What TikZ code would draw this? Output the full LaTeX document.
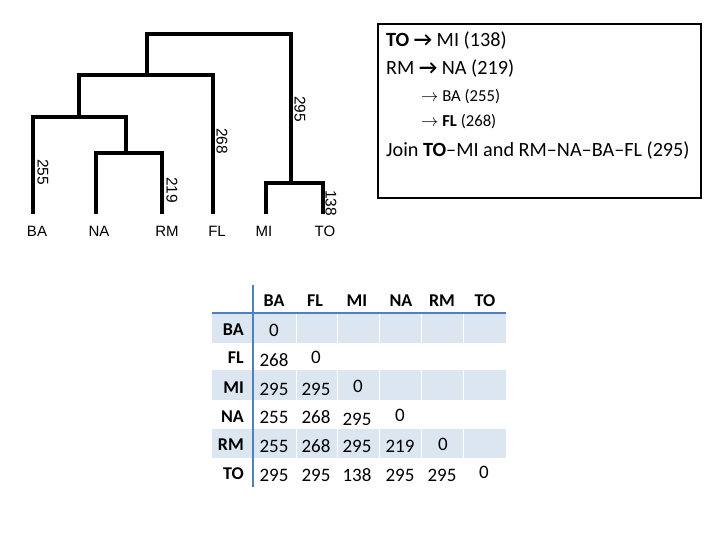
\documentclass[tikz,border=0pt]{standalone}
\usepackage{fontspec}
\setmainfont{Carlito}
\newfontfamily\dendfont{Liberation Sans}
\definecolor{cellshade}{RGB}{220,230,241}
\definecolor{tablerule}{RGB}{79,129,189}
\begin{document}
\begin{tikzpicture}[x=1pt,y=-1pt,
  dend/.style={line width=3.2pt,line join=miter,black},
  leaf/.style={font=\dendfont\fontsize{15}{15}\selectfont,inner sep=0pt},
  hgt/.style={font=\dendfont\fontsize{15.5}{15.5}\selectfont,inner sep=0pt,rotate=-90},
  boxline/.style={anchor=west,inner sep=0pt,font=\fontsize{20.2}{20.2}\selectfont},
  subline/.style={anchor=west,inner sep=0pt,font=\fontsize{16.7}{16.7}\selectfont},
  hdr/.style={inner sep=0pt,font=\bfseries\fontsize{18}{18}\selectfont},
  num/.style={inner sep=0pt,font=\fontsize{19}{19}\selectfont},
]
\useasboundingbox (0,0) rectangle (720,540);
% ---------------- dendrogram
\coordinate (BA) at (33,214);
\coordinate (NA) at (96,214);
\coordinate (RM) at (162,214);
\coordinate (FL) at (213,214);
\coordinate (MI) at (266,214);
\coordinate (TO) at (323,214);
\coordinate (j138) at (291,183);
\coordinate (j219) at (126,153);
\coordinate (j255) at (79,117);
\coordinate (j268) at (147,75);
\coordinate (j295) at (220,34);
\draw[dend] (MI) |- (j138) -| (TO);
\draw[dend] (NA) |- (j219) -| (RM);
\draw[dend] (BA) |- (j255) -| (j219);
\draw[dend] (j255) |- (j268) -| (FL);
\draw[dend] (j268) |- (j295) -| (j138);
\node[leaf] (lBA) at (37,231) {BA};
\node[leaf] (lNA) at (99,231) {NA};
\node[leaf] (lRM) at (167,231) {RM};
\node[leaf] (lFL) at (217,231) {FL};
\node[leaf] (lMI) at (264,231) {MI};
\node[leaf] (lTO) at (325,231) {TO};
\node[hgt] (h255) at (43,172) {255};
\node[hgt] (h219) at (172,190) {219};
\node[hgt] (h268) at (222,141) {268};
\node[hgt] (h295) at (300,109) {295};
\node[hgt] (h138) at (331,203) {138};
% ---------------- text box
\node[draw,line width=1.6pt,minimum width=323pt,minimum height=174pt,inner sep=0pt] (box) at (539.5,111) {};
\node[boxline] (t1) at (386,41) {\textbf{TO} \textbf{→} MI (138)};
\node[boxline] (t2) at (386,69) {RM \textbf{→} NA (219)};
\node[subline] (t3) at (421,97) {$\rightarrow$ BA (255)};
\node[subline] (t4) at (421,122) {$\rightarrow$ \textbf{FL} (268)};
\node[boxline] (t5) at (386,151) {Join \textbf{TO}–MI and RM–NA–BA–FL (295)};
% ---------------- table
\fill[cellshade] (212,313) rectangle (506,343);
\fill[cellshade] (212,370) rectangle (506,400);
\fill[cellshade] (212,429) rectangle (506,458);
\foreach \xs in {296,337,379,421,463}{
  \draw[white,line width=0.8pt] (\xs,313) -- (\xs,343);
  \draw[white,line width=0.8pt] (\xs,370) -- (\xs,400);
  \draw[white,line width=0.8pt] (\xs,429) -- (\xs,458);
}
\draw[tablerule,line width=2.2pt] (253,285) -- (253,487);
\draw[tablerule,line width=2.2pt] (212,313) -- (506,313);
% header
\node[hdr] (cBA) at (274,301) {BA};
\node[hdr] (cFL) at (315,301) {FL};
\node[hdr] (cMI) at (357,301) {MI};
\node[hdr] (cNA) at (401,301) {NA};
\node[hdr] (cRM) at (442,301) {RM};
\node[hdr] (cTO) at (485,301) {TO};
\node[hdr,anchor=east] (rBA) at (244,330) {BA};
\node[hdr,anchor=east] (rFL) at (244,358) {FL};
\node[hdr,anchor=east] (rMI) at (244,388) {MI};
\node[hdr,anchor=east] (rNA) at (244,417) {NA};
\node[hdr,anchor=east] (rRM) at (244,445) {RM};
\node[hdr,anchor=east] (rTO) at (244,474) {TO};
% values
\node[num] (v11) at (274,330) {0};
\node[num] (v21) at (274,360) {268};
\node[num] (v22) at (316,357) {0};
\node[num] (v31) at (274,389) {295};
\node[num] (v32) at (316,389) {295};
\node[num] (v33) at (358,386) {0};
\node[num] (v41) at (274,417) {255};
\node[num] (v42) at (316,417) {268};
\node[num] (v43) at (357,419) {295};
\node[num] (v44) at (400,415) {0};
\node[num] (v51) at (274,446) {255};
\node[num] (v52) at (316,446) {268};
\node[num] (v53) at (357,446) {295};
\node[num] (v54) at (400,446) {219};
\node[num] (v55) at (443,444) {0};
\node[num] (v61) at (274,475) {295};
\node[num] (v62) at (316,475) {295};
\node[num] (v63) at (357,475) {138};
\node[num] (v64) at (400,475) {295};
\node[num] (v65) at (442,475) {295};
\node[num] (v66) at (484,472) {0};
\end{tikzpicture}
\end{document}
